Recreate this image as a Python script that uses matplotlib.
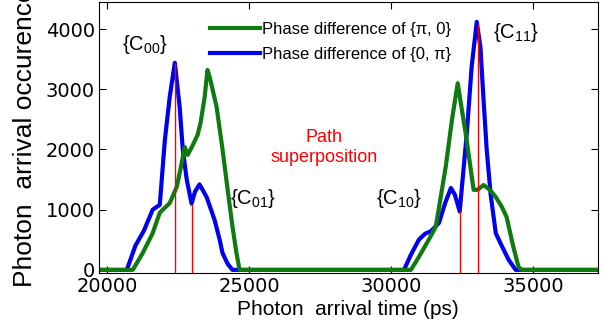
import numpy as np
from matplotlib import pyplot as plt

plt.rcParams['mathtext.fontset'] = 'custom'
plt.rcParams['mathtext.rm'] = 'Liberation Sans'
plt.rcParams['mathtext.it'] = 'Liberation Sans:italic'
ann_font = ['Liberation Sans', 'DejaVu Sans']

# {pi, 0} phase difference (green)
t_pi0 = [19700, 20700, 20910, 21260, 21610, 21860, 22210, 22460, 22600, 22740, 22840, 23000,
         23190, 23300, 23440, 23540, 23620, 23860, 24070, 24250, 24420, 24560, 24670,
         30700, 30900, 31160, 31400, 31580, 31930, 32150, 32350, 32450, 32630, 32910, 33050,
         33260, 33500, 33690, 33900, 34070, 34300, 34490, 34600, 37300]
n_pi0 = [0, 0, 0, 280, 610, 950, 1110, 1380, 1700, 2040, 1910, 2050,
         2240, 2450, 2870, 3320, 3200, 2710, 2000, 1330, 720, 280, 0,
         0, 150, 360, 560, 720, 1720, 2500, 3100, 2800, 2270, 1330, 1330,
         1410, 1320, 1210, 1050, 880, 400, 50, 0, 0]

# {0, pi} phase difference (blue)
t_0pi = [19700, 20450, 20700, 21000, 21300, 21610, 21860, 22040, 22210, 22390, 22560, 22670,
         22810, 22980, 23100, 23260, 23510, 23790, 23970, 24070, 24250, 24420,
         30460, 30700, 30980, 31200, 31400, 31690, 31900, 32110, 32250, 32420, 32670, 32840,
         33020, 33150, 33260, 33370, 33510, 33690, 33900, 34140, 34390, 37300]
n_0pi = [0, 0, 0, 400, 650, 1000, 1080, 2160, 2870, 3440, 2710, 2000,
         1500, 1100, 1300, 1420, 1210, 830, 500, 280, 100, 0,
         0, 250, 500, 600, 640, 780, 1100, 1360, 1250, 970, 2270, 3370,
         4120, 3700, 2820, 2000, 1250, 610, 400, 170, 0, 0]

# path superposition markers (time, height)
mark_t = [22400, 23000, 32420, 33050]
mark_h = [3440, 1100, 970, 4080]

fig = plt.figure(figsize=(6.05, 3.32), dpi=100)
ax = fig.add_axes([0.1636, 0.178, 0.8244, 0.816])

l_b, = ax.plot(t_0pi, n_0pi, color='#0000f0', lw=3, label='Phase difference of {0, π}')
l_g, = ax.plot(t_pi0, n_pi0, color='#0f7a0f', lw=3, label='Phase difference of {π, 0}')
ax.vlines(mark_t, -50, mark_h, color='red', lw=1, zorder=3)

ax.text(21330, 3740, r'{C$_{00}$}', fontsize=14.5, ha='center', va='center', family=ann_font)
ax.text(25150, 1190, r'{C$_{01}$}', fontsize=14.5, ha='center', va='center', family=ann_font)
ax.text(30300, 1190, r'{C$_{10}$}', fontsize=14.5, ha='center', va='center', family=ann_font)
ax.text(34400, 3940, r'{C$_{11}$}', fontsize=14.5, ha='center', va='center', family=ann_font)
ax.text(27650, 2030, 'Path\nsuperposition', color='red', fontsize=13, ha='center',
        va='center', family=ann_font)

ax.set_xlim(19720, 37280)
ax.set_ylim(-50, 4450)
ax.set_xticks([20000, 25000, 30000, 35000])
ax.set_yticks([0, 1000, 2000, 3000, 4000])
ax.tick_params(direction='in', top=True, right=True, labelsize=14, length=5, pad=3)
ax.set_xlabel('Photon  arrival time (ps)', fontsize=15, labelpad=3, family=ann_font)
ax.set_ylabel('Photon  arrival occurence', fontsize=19, family=ann_font)
ax.yaxis.set_label_coords(-0.124, 0.5)
ax.legend(handles=[l_g, l_b], loc='upper left', bbox_to_anchor=(0.2, 0.97), frameon=False,
          prop={'family': ann_font, 'size': 12}, handlelength=3.0, handletextpad=0.1,
          labelspacing=0.6, borderaxespad=0.3)
plt.savefig('out.png')
